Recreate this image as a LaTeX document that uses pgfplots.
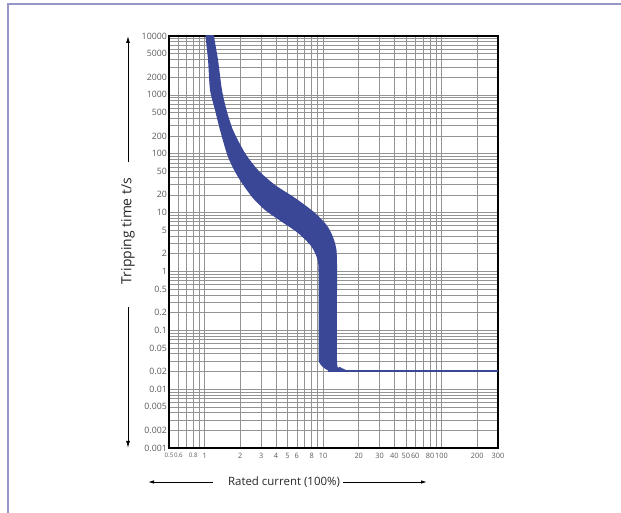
\documentclass[border=0pt]{standalone}
\usepackage{pgfplots}
\pgfplotsset{compat=1.18}
\usetikzlibrary{arrows.meta}
\usepackage{fontspec}
\setmainfont{Open Sans}
\definecolor{bandblue}{RGB}{58,70,150}
\definecolor{framecol}{RGB}{150,150,200}
\definecolor{tickgray}{RGB}{90,90,90}
\newcommand{\sm}[1]{{\fontsize{6.2}{7}\selectfont #1}}
\begin{document}
\begin{tikzpicture}[x=1bp,y=1bp]
\useasboundingbox (0,0) rectangle (621,513);
\draw[framecol, line width=2bp] (8,0) -- (8,509) -- (621,509);
\begin{axis}[at={(169bp,65bp)}, anchor=south west,
  width=329bp, height=412bp, scale only axis,
  xmode=log, ymode=log,
  xmin=0.5, xmax=300, ymin=0.001, ymax=10000,
  xtick={0.5,0.6,0.8,1,2,3,4,5,6,8,10,20,30,40,50,60,80,100,200,300},
  xticklabels={\sm{0.5},\sm{0.6},\sm{0.8},1,2,3,4,5,6,8,10,20,30,40,50,60,80,100,200,300},
  minor xtick={0.7,0.9,7,9,70,90},
  ytick={0.001,0.002,0.005,0.01,0.02,0.05,0.1,0.2,0.5,1,2,5,10,20,50,100,200,500,1000,2000,5000,10000},
  yticklabels={0.001,0.002,0.005,0.01,0.02,0.05,0.1,0.2,0.5,1,2,5,10,20,50,100,200,500,1000,2000,5000,10000},
  minor ytick={0.003,0.004,0.006,0.007,0.008,0.009,0.03,0.04,0.06,0.07,0.08,0.09,0.3,0.4,0.6,0.7,0.8,0.9,3,4,6,7,8,9,30,40,60,70,80,90,300,400,600,700,800,900,3000,4000,6000,7000,8000,9000},
  grid=both,
  major grid style={gray!85, line width=0.5pt},
  minor grid style={gray!85, line width=0.5pt},
  major tick length=0pt, minor tick length=0pt,
  axis line style={black, line width=1.4pt},
  xticklabel style={font=\fontsize{7.4}{8}\selectfont, text=tickgray, inner sep=1pt, yshift=-4pt},
  yticklabel style={font=\fontsize{8.8}{9}\selectfont, text=tickgray, inner sep=2pt},
]
% band of the tripping characteristic: lower edge, then upper edge back
\addplot[fill=bandblue, draw=none, smooth, tension=0.45] coordinates {
  (1.00,20000) (1.017,10000) (1.068,3911) (1.110,1209) (1.223,553) (1.348,253)
  (1.575,88.0) (1.913,40.2) (2.511,18.4) (3.233,11.06) (4.50,6.92) (6.14,4.50)
  (7.91,2.71) (8.89,1.69) (9.15,0.978) (9.15,0.0412) (9.24,0.0289) (10.18,0.0229)
  (11.67,0.0200) (15.9,0.0204) (13.9,0.0238) (13.1,0.0313) (13.1,1.45)
  (12.6,3.04) (11.0,5.69) (8.55,9.84) (5.80,17.7) (3.93,29.4) (2.82,52.9)
  (2.19,102.8) (1.735,253) (1.53,553) (1.40,1209) (1.297,3911) (1.20,10000)
  (1.18,20000)
};
\addplot[bandblue, line width=2bp] coordinates {(11,0.02) (300,0.02)};
\end{axis}
\draw[black, line width=0.9bp, -{Latex[length=7bp,width=4bp]}] (128,351) -- (128,477);
\draw[black, line width=0.9bp, -{Latex[length=7bp,width=4bp]}] (128,206) -- (128,65);
\node[rotate=90, font=\fontsize{14}{16}\selectfont, text=black!85] at (128,282) {Tripping time t/s};
\draw[black, line width=0.9bp, -{Latex[length=6bp,width=3.5bp]}] (213,31) -- (148,31);
\draw[black, line width=0.9bp, -{Latex[length=6bp,width=3.5bp]}] (343,31) -- (427,31);
\node[font=\fontsize{11.5}{13}\selectfont, text=black!85] at (284,31) {Rated current (100\%)};
\end{tikzpicture}
\end{document}
